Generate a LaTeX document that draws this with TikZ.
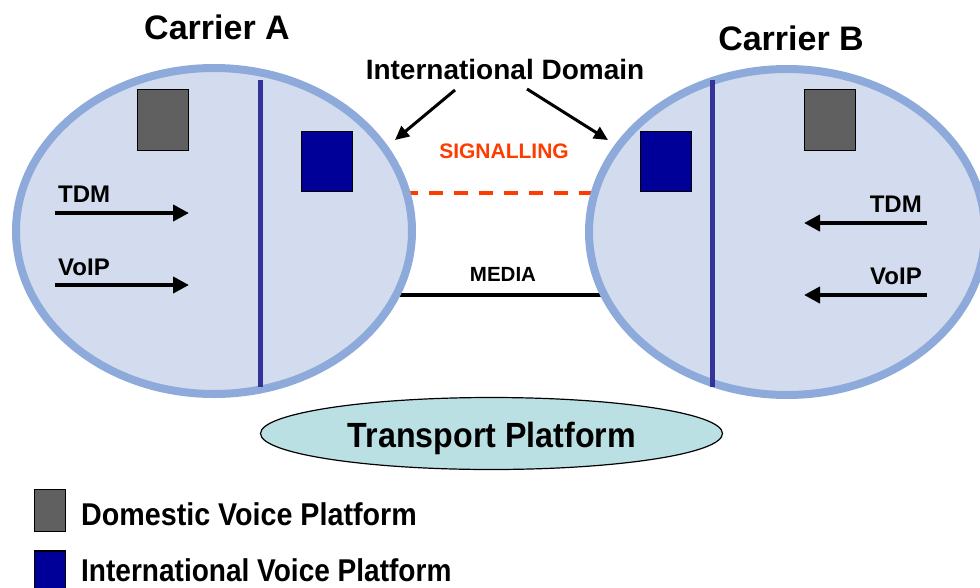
\documentclass[tikz,border=0pt]{standalone}
\usepackage{fontspec}
\setmainfont{Liberation Sans}
\usetikzlibrary{arrows.meta,shapes.geometric}
\definecolor{cfill}{RGB}{211,220,238}
\definecolor{cborder}{RGB}{141,170,218}
\definecolor{divline}{RGB}{51,51,153}
\definecolor{dgray}{RGB}{96,96,96}
\definecolor{dblue}{RGB}{0,0,153}
\definecolor{tfill}{RGB}{187,224,228}
\definecolor{sigred}{RGB}{255,60,0}
\newcommand{\fs}[1]{\fontsize{#1}{#1}\selectfont\bfseries}
\begin{document}
\begin{tikzpicture}[x=1pt,y=-1pt,
  carrier/.style={ellipse, draw=cborder, fill=cfill, line width=8pt, minimum width=396pt, minimum height=326pt, inner sep=0pt},
  divider/.style={draw=divline, line width=5pt},
  domestic/.style={draw=black, fill=dgray, line width=1.3pt, minimum width=51pt, minimum height=61pt, inner sep=0pt},
  intl/.style={draw=black, fill=dblue, line width=1.3pt, minimum width=51pt, minimum height=60pt, inner sep=0pt},
  flow/.style={line width=4pt, -{Triangle[length=16pt,width=16pt]}},
  pointer/.style={line width=3pt, -{Triangle[length=14pt,width=13pt]}},
  sig/.style={draw=sigred, line width=4pt, dash pattern=on 14pt off 11pt, dash phase=19pt},
  media/.style={draw=black, line width=4pt},
  txt/.style={inner sep=0pt, font=\fs{24}},
]
\useasboundingbox (0,0) rectangle (980,587);
\clip (0,0) rectangle (980,587);

% links between the carriers (drawn under the ellipses)
\coordinate (sigL) at (398,193);
\coordinate (sigR) at (602,193);
\coordinate (medL) at (398,295);
\coordinate (medR) at (604,295);
\draw[sig] (sigL) -- (sigR);
\draw[media] (medL) -- (medR);

% carriers
\node[carrier] (A) at (214,231) {};
\node[carrier] (B) at (787,232) {};

% dividers
\coordinate (dAt) at (260,80); \coordinate (dAb) at (260,387);
\coordinate (dBt) at (712,80); \coordinate (dBb) at (712,387);
\draw[divider] (dAt) -- (dAb);
\draw[divider] (dBt) -- (dBb);

% platforms
\node[domestic] (gA) at (163,120) {};
\node[intl] (bA) at (327,161.5) {};
\node[intl] (bB) at (666,161.5) {};
\node[domestic] (gB) at (830,120) {};

% titles
\node[inner sep=0pt, font=\fs{34}] (tA) at (217,27) {Carrier A};
\node[inner sep=0pt, font=\fs{34}] (tB) at (791,38) {Carrier B};
\node[inner sep=0pt, font=\fs{28}] (dom) at (505,69) {International Domain};

% pointers from International Domain
\coordinate (pA0) at (455,90); \coordinate (pA1) at (395,140);
\coordinate (pB0) at (527,89); \coordinate (pB1) at (608,140);
\draw[pointer] (pA0) -- (pA1);
\draw[pointer] (pB0) -- (pB1);

% link labels
\node[inner sep=0pt, font=\fs{21}, text=sigred] (sigT) at (504,151) {SIGNALLING};
\node[inner sep=0pt, font=\fs{20.5}] (medT) at (503,274) {MEDIA};

% traffic in carrier A
\node[txt, anchor=base west] (tdmA) at (58,202) {TDM};
\node[txt, anchor=base west] (voipA) at (58,275) {VoIP};
\coordinate (fA1s) at (55,213); \coordinate (fA1e) at (189,213);
\coordinate (fA2s) at (55,285); \coordinate (fA2e) at (189,285);
\draw[flow] (fA1s) -- (fA1e);
\draw[flow] (fA2s) -- (fA2e);

% traffic in carrier B
\node[txt, anchor=base east] (tdmB) at (922,212) {TDM};
\node[txt, anchor=base east] (voipB) at (922,284) {VoIP};
\coordinate (fB1s) at (927,223); \coordinate (fB1e) at (804,223);
\coordinate (fB2s) at (927,295); \coordinate (fB2e) at (804,295);
\draw[flow] (fB1s) -- (fB1e);
\draw[flow] (fB2s) -- (fB2e);

% transport platform
\node[ellipse, draw=black, fill=tfill, line width=1.2pt, minimum width=462pt, minimum height=72pt, inner sep=0pt] (T) at (491.5,433.5) {};
\node[inner sep=0pt, anchor=base] (Tt) at (492,447) {\fs{35}\scalebox{0.92}[1]{Transport Platform}};

% legend
\node[domestic, minimum width=31pt, minimum height=42pt] (lg) at (50,510.5) {};
\node[intl, minimum width=31pt, minimum height=40pt] (lb) at (50,571) {};
\node[inner sep=0pt, anchor=base west] (lgT) at (81,525) {\fs{31.5}\scalebox{0.91}[1]{Domestic Voice Platform}};
\node[inner sep=0pt, anchor=base west] (lbT) at (81,581) {\fs{31.5}\scalebox{0.89}[1]{International Voice Platform}};
\end{tikzpicture}
\end{document}
